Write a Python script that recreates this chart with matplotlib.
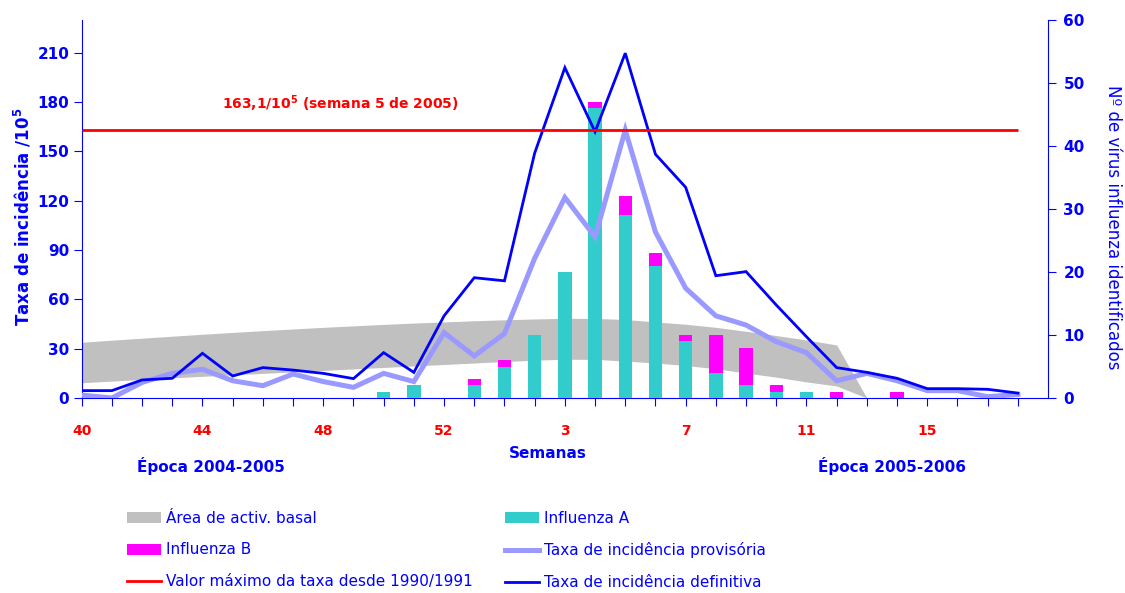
import numpy as np
import matplotlib
matplotlib.use("Agg")
import matplotlib.pyplot as plt
from matplotlib.patches import Patch
from matplotlib.lines import Line2D

# semanas: época 2004-2005 (40..53) + 2005-2006 (1..18)
semanas = list(range(40, 54)) + list(range(1, 19))
x = np.arange(len(semanas))

# taxa de incidência /10^5
taxa_definitiva = [4.5, 4.5, 11, 12, 27.2, 13.4, 18.5, 17, 15, 11.8, 27.6, 15.6, 50, 73.2, 71.3, 149,
                   201, 162, 209.8, 148.3, 128.2, 74.4, 76.9, 56.6, 37.3, 18.5, 15.6, 12, 5.7, 5.7, 5.3, 3]
taxa_provisoria = [1.8, 0, 9.5, 15, 17.5, 10.5, 7.5, 14.6, 10, 6.5, 15, 10, 39.8, 25.6, 39.2, 85,
                   122, 98, 163, 101, 66.8, 50, 44.4, 34.3, 27.6, 10.5, 15, 10.5, 4.5, 4.5, 0.8, 2.2]
valor_maximo = 163.1

# área de actividade basal (limites inferior e superior)
basal_sup = [33.9, 35.2, 36.4, 37.6, 38.8, 39.9, 41.0, 42.0, 43.0, 43.9, 44.8, 45.6, 46.3, 47.0,
             47.6, 48.1, 48.5, 48.4, 47.8, 46.3, 44.9, 43.0, 40.6, 38.0, 35.3, 32.3, 0]
basal_inf = [9.3, 10.3, 11.3, 12.3, 13.2, 14.1, 15.0, 15.9, 16.8, 17.7, 18.6, 19.5, 20.4, 21.3,
             22.2, 23.0, 23.6, 23.5, 22.5, 21.3, 19.8, 17.8, 15.2, 12.7, 9.8, 7.3, 0]

# nº de vírus identificados
influenza_a = [0, 0, 0, 0, 0, 0, 0, 0, 0, 0, 1, 2, 0, 2, 5, 10,
               20, 46, 29, 21, 9, 4, 2, 1, 1, 0, 0, 0, 0, 0, 0, 0]
influenza_b = [0, 0, 0, 0, 0, 0, 0, 0, 0, 0, 0, 0, 0, 1, 1, 0,
               0, 1, 3, 2, 1, 6, 6, 1, 0, 1, 0, 1, 0, 0, 0, 0]

AZUL = '#0000FF'
AZUL_CLARO = '#9999FF'
VERMELHO = '#FF0000'
CINZA = '#C0C0C0'
TURQUESA = '#33CCCC'
MAGENTA = '#FF00FF'

fig = plt.figure(figsize=(11.25, 5.93), dpi=100)
ax = fig.add_axes([0.0726, 0.3288, 0.8590, 0.6375])
axb = ax.twinx()
axl = ax.twinx()

# área basal
ax.fill_between(x[:len(basal_sup)], basal_inf, basal_sup, color=CINZA, linewidth=0)
ax.set_ylim(0, 230)
ax.set_xlim(0, len(semanas))
ax.set_yticks(np.arange(0, 211, 30))

# barras
axb.bar(x, influenza_a, width=0.44, color=TURQUESA)
axb.bar(x, influenza_b, width=0.44, bottom=influenza_a, color=MAGENTA)
axb.set_ylim(0, 60)
axb.set_yticks(np.arange(0, 61, 10))

# linhas
axl.plot(x, taxa_provisoria, color=AZUL_CLARO, lw=3.6, solid_joinstyle='miter')
axl.plot(x, taxa_definitiva, color=AZUL, lw=2.0, solid_joinstyle='miter')
axl.hlines(valor_maximo, x[0], x[-1], color=VERMELHO, lw=2.0)
axl.set_ylim(0, 230)
axl.axis('off')
axl.text(8.55, 179, '163,1/10$^{\\mathbf{5}}$ (semana 5 de 2005)', color=VERMELHO,
         fontsize=10, fontweight='bold', ha='center', va='center')

# eixos
for a in (ax, axb):
    a.spines['top'].set_visible(False)
    for s in ('left', 'right', 'bottom'):
        a.spines[s].set_color(AZUL)
ax.spines['right'].set_visible(False)
axb.spines['left'].set_visible(False)
axb.spines['bottom'].set_visible(False)

ax.set_xticks(x)
ax.set_xticklabels([str(s) if i % 4 == 0 else '' for i, s in enumerate(semanas)])
ax.tick_params(axis='x', colors=AZUL, labelcolor=VERMELHO, length=6, pad=13, labelsize=10)
for lab in ax.get_xticklabels():
    lab.set_fontweight('bold')
ax.tick_params(axis='y', colors=AZUL, length=6, pad=3, labelsize=11)
axb.tick_params(axis='y', colors=AZUL, length=6, pad=5, labelsize=11)
for lab in ax.get_yticklabels() + axb.get_yticklabels():
    lab.set_fontweight('bold')

fig.text(0.020, 0.634, 'Taxa de incidência /10$^{\\mathbf{5}}$', rotation=90, color=AZUL,
         fontsize=12, fontweight='bold', ha='center', va='center')
fig.text(0.989, 0.617, 'Nº de vírus influenza identificados', rotation=270, color=AZUL,
         fontsize=12, ha='center', va='center')
fig.text(0.487, 0.236, 'Semanas', color=AZUL, fontsize=11, fontweight='bold', ha='center', va='center')
fig.text(0.1876, 0.214, 'Época 2004-2005', color=AZUL, fontsize=11, fontweight='bold',
         ha='center', va='center')
fig.text(0.793, 0.214, 'Época 2005-2006', color=AZUL, fontsize=11, fontweight='bold',
         ha='center', va='center')

# legenda em duas colunas
col1 = [Patch(facecolor=CINZA), Patch(facecolor=MAGENTA), Line2D([], [], color=VERMELHO, lw=2)]
lab1 = ['Área de activ. basal', 'Influenza B', 'Valor máximo da taxa desde 1990/1991']
col2 = [Patch(facecolor=TURQUESA), Line2D([], [], color=AZUL_CLARO, lw=3.6),
        Line2D([], [], color=AZUL, lw=2)]
lab2 = ['Influenza A', 'Taxa de incidência provisória', 'Taxa de incidência definitiva']
for h, l, xa in ((col1, lab1, 127 / 1125), (col2, lab2, 505 / 1125)):
    leg = fig.legend(h, l, loc='upper left', bbox_to_anchor=(xa, 1 - 511 / 593), frameon=False,
                     fontsize=11, handlelength=2.2, handletextpad=0.35, labelspacing=1.08,
                     borderpad=0, borderaxespad=0)
    for t in leg.get_texts():
        t.set_color(AZUL)

fig.savefig('out.png', dpi=100)
